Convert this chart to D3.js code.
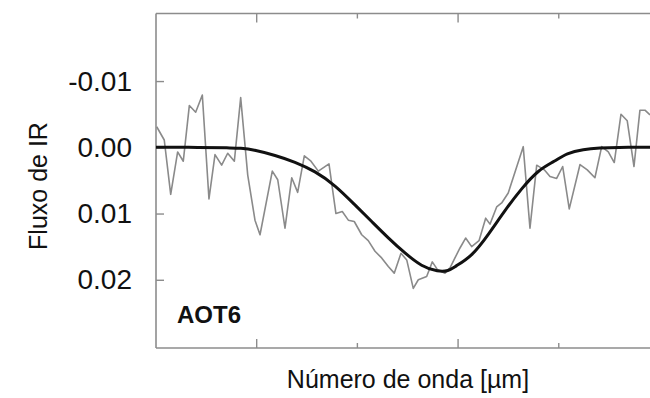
<!DOCTYPE html>
<html>
<head>
<meta charset="utf-8">
<script src="https://cdn.jsdelivr.net/npm/d3@7"></script>
<style>
  html, body { margin: 0; padding: 0; background: #fff; }
  svg { display: block; }
  text { font-family: "Liberation Sans", Arial, Helvetica, sans-serif; }
</style>
</head>
<body>
<svg id="chart" width="650" height="398"></svg>
<script>
// ---- data ----
const obsX = [0.007,0.082,0.146,0.215,0.271,0.331,0.394,0.460,0.526,0.586,0.652,0.712,0.778,0.841,0.911,0.983,1.033,1.155,1.209,1.281,1.348,1.407,1.473,1.539,1.612,1.718,1.787,1.850,1.910,1.969,2.043,2.108,2.175,2.241,2.307,2.366,2.433,2.490,2.555,2.605,2.688,2.744,2.797,2.870,2.920,2.969,3.019,3.075,3.135,3.208,3.274,3.317,3.383,3.433,3.498,3.647,3.714,3.781,3.856,3.913,3.979,4.039,4.104,4.211,4.283,4.359,4.426,4.492,4.551,4.618,4.680,4.747,4.806,4.856,4.906];
const obsY = [-0.0031,-0.0011,0.0071,0.0007,0.0021,-0.0063,-0.0053,-0.0079,0.0078,0.0011,0.0027,0.0009,0.0021,-0.0075,0.0042,0.0110,0.0132,0.0036,0.0049,0.0122,0.0046,0.0068,0.0013,0.0021,0.0036,0.0025,0.0100,0.0097,0.0110,0.0112,0.0132,0.0141,0.0157,0.0167,0.0180,0.0190,0.0160,0.0170,0.0213,0.0200,0.0195,0.0173,0.0185,0.0190,0.0182,0.0167,0.0152,0.0137,0.0150,0.0141,0.0107,0.0116,0.0090,0.0084,0.0069,-0.0001,0.0122,0.0027,0.0034,0.0044,0.0047,0.0029,0.0093,0.0026,0.0034,0.0046,-0.0001,0.0007,0.0023,-0.0050,-0.0040,0.0029,-0.0056,-0.0056,-0.0049];

const fitX = [0,0.437,0.735,0.834,0.983,1.182,1.380,1.579,1.778,1.976,2.142,2.307,2.473,2.638,2.803,2.903,2.969,3.135,3.300,3.466,3.632,3.797,3.962,4.078,4.243,4.409,4.575,4.906];
const fitY = [0,0,0.0001,0.0001,0.0004,0.0012,0.0022,0.0036,0.0057,0.0087,0.0112,0.0137,0.0160,0.0180,0.0188,0.0187,0.0180,0.0165,0.0132,0.0095,0.0062,0.0034,0.0021,0.0009,0.0003,0.0001,0,0];

const yTicks = [-0.01, 0, 0.01, 0.02];
const yTickLabels = ["-0.01", "0.00", "0.01", "0.02"];
const xTicks = [1, 2, 3, 4];
const labelText = "AOT6";
const xTitle = "Número de onda [µm]";
const yTitle = "Fluxo de IR";

(function () {
  const svg = d3.select("#chart");
  const pL = 156, pR = 650, pT = 13.5, pB = 348;
  const x = d3.scaleLinear().domain([0, 4.906]).range([pL, pR]);
  const y = d3.scaleLinear().domain([-0.0202, 0.0303]).range([pT, pB]);
  const axisColor = "#8c8c8c";

  svg.append("rect").attr("width", 650).attr("height", 398).attr("fill", "#fff");

  svg.append("clipPath").attr("id", "ylabClip")
    .append("rect").attr("x", 69).attr("y", 0).attr("width", 600).attr("height", 398);

  // left axis (outer group carries the clip, inner group the transform)
  const gyOuter = svg.append("g").attr("clip-path", "url(#ylabClip)");
  const gy = gyOuter.append("g").attr("transform", `translate(${pL},0)`)
    .call(d3.axisLeft(y).tickValues(yTicks).tickSize(-8).tickSizeOuter(0).tickPadding(24)
          .tickFormat((d, i) => yTickLabels[i]));
  gy.select(".domain").attr("stroke", axisColor).attr("stroke-width", 1.6)
    .attr("d", `M0,${pT}V${pB}`);
  gy.selectAll(".tick line").attr("stroke", axisColor).attr("stroke-width", 1.4);
  gy.selectAll(".tick text").attr("font-size", 28).attr("fill", "#111")
    .attr("font-family", "'Liberation Sans', Arial, sans-serif");

  // top & bottom frames with alternating tick lengths
  function frame(yPos, dir) {
    const g = svg.append("g");
    g.append("line").attr("x1", pL).attr("x2", pR).attr("y1", yPos).attr("y2", yPos)
      .attr("stroke", axisColor).attr("stroke-width", 1.6);
    g.selectAll("line.tk").data(xTicks).join("line").attr("class", "tk")
      .attr("x1", d => x(d)).attr("x2", d => x(d))
      .attr("y1", yPos)
      .attr("y2", (d, i) => yPos + dir * (i % 2 === 0 ? 9 : 5))
      .attr("stroke", axisColor).attr("stroke-width", 1.4);
  }
  frame(pT, 1);
  frame(pB, -1);

  // observed spectrum (gray)
  const line = d3.line().x(d => x(d[0])).y(d => y(d[1]));
  svg.append("path")
    .datum(obsX.map((v, i) => [v, obsY[i]]))
    .attr("d", line)
    .attr("fill", "none").attr("stroke", "#8a8a8a").attr("stroke-width", 1.6)
    .attr("stroke-linejoin", "round");

  // fitted profile (black)
  const smooth = d3.line().x(d => x(d[0])).y(d => y(d[1])).curve(d3.curveBasis);
  svg.append("path")
    .datum(fitX.map((v, i) => [v, fitY[i]]))
    .attr("d", smooth)
    .attr("fill", "none").attr("stroke", "#111").attr("stroke-width", 3);

  // label
  svg.append("text").attr("x", 177).attr("y", 323).attr("font-size", 24)
    .attr("font-weight", "bold").attr("fill", "#111").text(labelText);

  // axis titles
  svg.append("text").attr("x", 408).attr("y", 388).attr("text-anchor", "middle")
    .attr("font-size", 25).attr("fill", "#111").text(xTitle);
  svg.append("text").attr("transform", "translate(47,186) rotate(-90)")
    .attr("text-anchor", "middle").attr("font-size", 25).attr("fill", "#111").text(yTitle);
})();
</script>
</body>
</html>
